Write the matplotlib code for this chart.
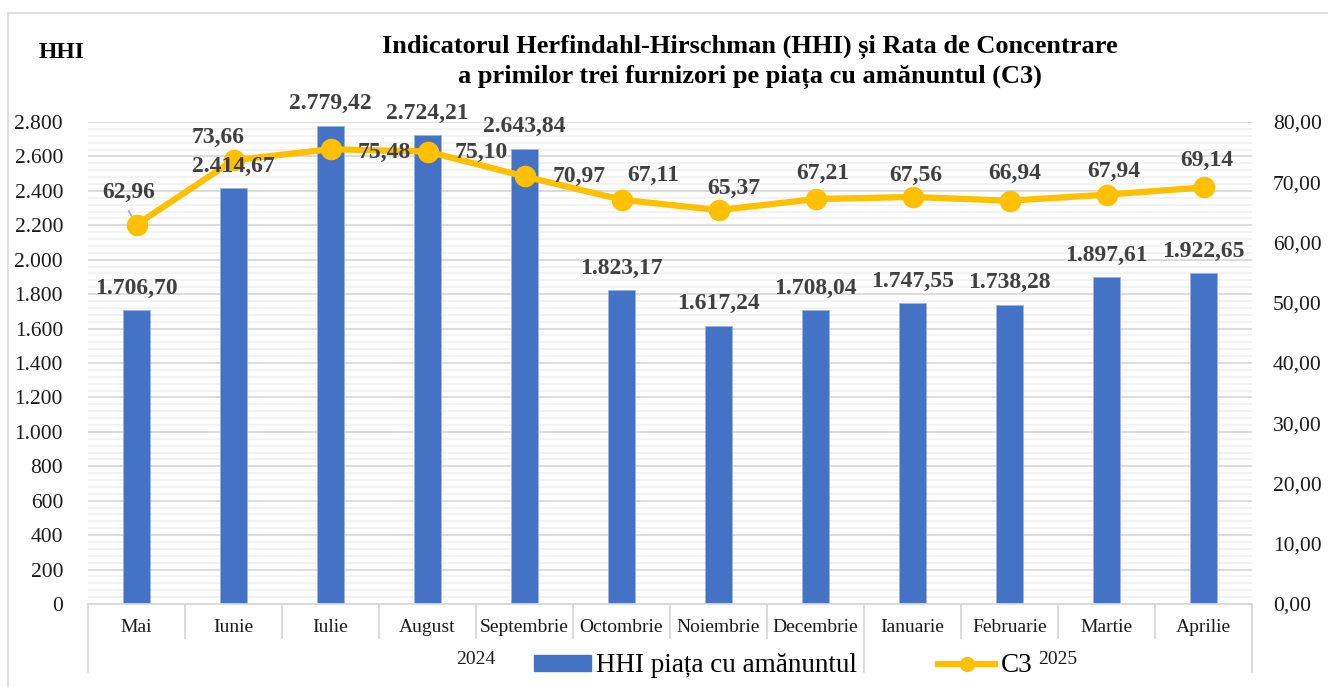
import matplotlib
matplotlib.use("Agg")
import matplotlib.pyplot as plt
import matplotlib.ticker as mticker
import matplotlib.transforms as mtransforms
from matplotlib.lines import Line2D
from matplotlib.patches import Patch, Rectangle

plt.rcParams.update({
    "font.family": ["Liberation Serif", "DejaVu Serif"],
    "axes.linewidth": 1.0,
})

# --- data -------------------------------------------------------------
MONTHS = ["Mai", "Iunie", "Iulie", "August", "Septembrie", "Octombrie",
          "Noiembrie", "Decembrie", "Ianuarie", "Februarie", "Martie", "Aprilie"]
YEARS = ["2024", "2025"]
YEAR_SPAN = [8, 4]          # months per year
HHI = [1706.70, 2414.67, 2779.42, 2724.21, 2643.84, 1823.17,
       1617.24, 1708.04, 1747.55, 1738.28, 1897.61, 1922.65]
C3 = [62.96, 73.66, 75.48, 75.10, 70.97, 67.11,
      65.37, 67.21, 67.56, 66.94, 67.94, 69.14]

# label placement for C3 values (pixel offsets of label centre, x right / y up)
C3_OFFSETS = [(-8, 32), (-15, 23), (54, -3), (54, -1), (55, 0), (32, 24),
              (15, 22), (7, 26), (3, 21), (5, 27), (7, 23), (3, 27)]

BLUE = "#4472C4"
GOLD = "#FFC000"
LABEL = "#404040"
GRID_MAJ = "#D9D9D9"
GRID_MIN = "#F2F2F2"


def ro(v, dec=2):
    s = f"{v:,.{dec}f}"
    return s.replace(",", "X").replace(".", ",").replace("X", ".")


W, H = 1328, 687
fig = plt.figure(figsize=(W / 100, H / 100), dpi=100)

# outer chart frame (left / top visible)
fig.patches.append(Rectangle((8 / W, -0.1), 1.2, 1.1 - 13 / H, transform=fig.transFigure,
                             facecolor="none", edgecolor=GRID_MAJ, linewidth=1.2))

ax = fig.add_axes([88 / W, 83 / H, (1252 - 88) / W, 482 / H])
ax2 = ax.twinx()

x = list(range(len(MONTHS)))

# grid
ax.set_ylim(0, 2800)
ax.yaxis.set_major_locator(mticker.MultipleLocator(200))
ax.yaxis.set_minor_locator(mticker.MultipleLocator(40))
ax.grid(True, axis="y", which="major", color=GRID_MAJ, linewidth=1.3, zorder=0)
ax.grid(True, axis="y", which="minor", color=GRID_MIN, linewidth=1.3, zorder=0)
ax.set_axisbelow(True)

bars = ax.bar(x, HHI, width=0.27, color=BLUE, edgecolor="#9DB5E3",
              linewidth=0.6, zorder=2)

ax2.set_ylim(0, 80)
ax2.yaxis.set_major_locator(mticker.MultipleLocator(10))
ax2.plot(x, C3, color=GOLD, linewidth=4.5, marker="o", markersize=14.5,
         zorder=4, solid_capstyle="round")

# bar labels drawn on the top axes so they sit above the line
for xi, v in zip(x, HHI):
    ax2.annotate(ro(v), xy=(xi, v), xycoords=ax.transData, xytext=(0, 22),
                 textcoords="offset pixels", ha="center", va="center",
                 fontsize=17, fontweight="bold", color=LABEL, zorder=6)

for i, (xi, v) in enumerate(zip(x, C3)):
    dx, dy = C3_OFFSETS[i]
    ax2.annotate(ro(v), xy=(xi, v), xytext=(dx, dy), textcoords="offset pixels",
                 ha="center", va="center", fontsize=17, fontweight="bold",
                 color=LABEL, zorder=6)
# leader line for first C3 label
ax2.annotate("", xy=(x[0], C3[0]), xytext=(-8, 14), textcoords="offset pixels",
             xycoords="data",
             arrowprops=dict(arrowstyle="-", color="#A6A6A6", linewidth=1.2,
                             shrinkA=0, shrinkB=0))

ax.set_xlim(-0.5, len(MONTHS) - 0.5)
ax.set_xticks([])
for a in (ax, ax2):
    for s in ("top", "left", "right"):
        a.spines[s].set_visible(False)
ax2.spines["bottom"].set_visible(False)
ax.spines["bottom"].set_color(GRID_MAJ)
ax.spines["bottom"].set_linewidth(1.3)

ax.yaxis.set_major_formatter(mticker.FuncFormatter(lambda v, p: ro(v, 0)))
ax2.yaxis.set_major_formatter(mticker.FuncFormatter(lambda v, p: ro(v, 2)))
ax.tick_params(axis="y", which="both", length=0, pad=18, labelsize=15.5,
               labelcolor="#1a1a1a")
ax2.tick_params(axis="y", which="both", length=0, pad=15, labelsize=15.5,
                labelcolor="#1a1a1a")

# category table below the axis
trans = mtransforms.blended_transform_factory(ax.transData, ax.transAxes)
ah = 482.0
year_edges = [-0.5]
for n in YEAR_SPAN:
    year_edges.append(year_edges[-1] + n)
for i in range(len(MONTHS) + 1):
    edge = i - 0.5
    low = -68 / ah if edge in year_edges else -34 / ah
    ax.add_line(Line2D([edge, edge], [0, low], transform=trans, color=GRID_MAJ,
                       linewidth=1.3, clip_on=False))
for xi, m in zip(x, MONTHS):
    ax.text(xi, -24 / ah, m, transform=trans, ha="center", va="center",
            fontsize=14, color="#1a1a1a")
for k, yr in enumerate(YEARS):
    mid = (year_edges[k] + year_edges[k + 1]) / 2
    ax.text(mid, -56 / ah, yr, transform=trans, ha="center", va="center",
            fontsize=14, color="#1a1a1a")

# titles
fig.text(62 / W, 1 - 52 / H, "HHI", ha="center", va="center",
         fontsize=17, fontweight="bold")
fig.text(750 / W, 1 - 62 / H,
         "Indicatorul Herfindahl-Hirschman (HHI) și Rata de Concentrare\n"
         "a primilor trei furnizori pe piața cu amănuntul (C3)",
         ha="center", va="center", fontsize=19, fontweight="bold",
         linespacing=1.35)

# legend
handles = [Patch(facecolor=BLUE, edgecolor=BLUE),
           Line2D([0], [0], color=GOLD, linewidth=4.5, marker="o", markersize=10)]
fig.legend(handles, ["HHI piața cu amănuntul", "C3"], loc="center",
           bbox_to_anchor=(783 / W, 1 - 666 / H), ncol=2, frameon=False,
           fontsize=19.5, handlelength=2.1, handleheight=0.55,
           handletextpad=0.2, columnspacing=3.0, borderpad=0)

fig.savefig("out.png", dpi=100)
